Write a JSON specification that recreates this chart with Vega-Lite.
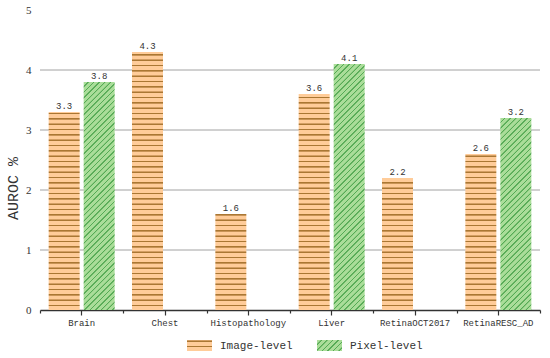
{
  "$schema": "https://vega.github.io/schema/vega-lite/v6.json",
  "width": 500,
  "height": 300,
  "autosize": "none",
  "padding": {"left": 40, "top": 10, "right": 10, "bottom": 48},
  "background": "white",
  "config": {
    "view": {"stroke": null},
    "axisY": {"domain": false, "ticks": false, "grid": false, "labelPadding": 9, "labelFont": "Liberation Serif", "labelFontSize": 11, "labelColor": "#333", "titleFont": "Liberation Mono", "titleFontSize": 15, "titleFontWeight": "normal", "titleColor": "#333", "titleX": -28, "titleY": 178, "titleAngle": 270, "titleAlign": "center", "titleBaseline": "middle"}
  },
  "data": {
    "values": [
      {"cat": "Brain", "level": "Image-level", "value": 3.3},
      {"cat": "Brain", "level": "Pixel-level", "value": 3.8},
      {"cat": "Chest", "level": "Image-level", "value": 4.3},
      {"cat": "Histopathology", "level": "Image-level", "value": 1.6},
      {"cat": "Liver", "level": "Image-level", "value": 3.6},
      {"cat": "Liver", "level": "Pixel-level", "value": 4.1},
      {"cat": "RetinaOCT2017", "level": "Image-level", "value": 2.2},
      {"cat": "RetinaRESC_AD", "level": "Image-level", "value": 2.6},
      {"cat": "RetinaRESC_AD", "level": "Pixel-level", "value": 3.2}
    ]
  },
  "resolve": {"axis": {"x": "independent", "y": "independent"}},
  "layer": [
    {
      "transform": [{"filter": "false"}],
      "mark": "point",
      "encoding": {
        "stroke": {
          "field": "value",
          "type": "quantitative",
          "legend": null,
          "scale": {
            "domain": [0,0.0136,0.0148,0.0188,0.02,0.0336,0.0348,0.0388,0.04,0.0536,0.0548,0.0588,0.06,0.0736,0.0748,0.0788,0.08,0.0936,0.0948,0.0988,
              0.1,0.1136,0.1148,0.1188,0.12,0.1336,0.1348,0.1388,0.14,0.1536,0.1548,0.1588,0.16,0.1736,0.1748,0.1788,0.18,0.1936,0.1948,0.1988,
              0.2,0.2136,0.2148,0.2188,0.22,0.2336,0.2348,0.2388,0.24,0.2536,0.2548,0.2588,0.26,0.2736,0.2748,0.2788,0.28,0.2936,0.2948,0.2988,
              0.3,0.3136,0.3148,0.3188,0.32,0.3336,0.3348,0.3388,0.34,0.3536,0.3548,0.3588,0.36,0.3736,0.3748,0.3788,0.38,0.3936,0.3948,0.3988,
              0.4,0.4136,0.4148,0.4188,0.42,0.4336,0.4348,0.4388,0.44,0.4536,0.4548,0.4588,0.46,0.4736,0.4748,0.4788,0.48,0.4936,0.4948,0.4988,
              0.5,0.5136,0.5148,0.5188,0.52,0.5336,0.5348,0.5388,0.54,0.5536,0.5548,0.5588,0.56,0.5736,0.5748,0.5788,0.58,0.5936,0.5948,0.5988,
              0.6,0.6136,0.6148,0.6188,0.62,0.6336,0.6348,0.6388,0.64,0.6536,0.6548,0.6588,0.66,0.6736,0.6748,0.6788,0.68,0.6936,0.6948,0.6988,
              0.7,0.7136,0.7148,0.7188,0.72,0.7336,0.7348,0.7388,0.74,0.7536,0.7548,0.7588,0.76,0.7736,0.7748,0.7788,0.78,0.7936,0.7948,0.7988,
              0.8,0.8136,0.8148,0.8188,0.82,0.8336,0.8348,0.8388,0.84,0.8536,0.8548,0.8588,0.86,0.8736,0.8748,0.8788,0.88,0.8936,0.8948,0.8988,
              0.9,0.9136,0.9148,0.9188,0.92,0.9336,0.9348,0.9388,0.94,0.9536,0.9548,0.9588,0.96,0.9736,0.9748,0.9788,0.98,0.9936,0.9948,0.9988,
              1],
            "range": ["#fc9","#fc9","#a73","#a73","#fc9","#fc9","#a73","#a73","#fc9","#fc9","#a73","#a73","#fc9","#fc9","#a73","#a73","#fc9","#fc9","#a73","#a73",
              "#fc9","#fc9","#a73","#a73","#fc9","#fc9","#a73","#a73","#fc9","#fc9","#a73","#a73","#fc9","#fc9","#a73","#a73","#fc9","#fc9","#a73","#a73",
              "#fc9","#fc9","#a73","#a73","#fc9","#fc9","#a73","#a73","#fc9","#fc9","#a73","#a73","#fc9","#fc9","#a73","#a73","#fc9","#fc9","#a73","#a73",
              "#fc9","#fc9","#a73","#a73","#fc9","#fc9","#a73","#a73","#fc9","#fc9","#a73","#a73","#fc9","#fc9","#a73","#a73","#fc9","#fc9","#a73","#a73",
              "#fc9","#fc9","#a73","#a73","#fc9","#fc9","#a73","#a73","#fc9","#fc9","#a73","#a73","#fc9","#fc9","#a73","#a73","#fc9","#fc9","#a73","#a73",
              "#fc9","#fc9","#a73","#a73","#fc9","#fc9","#a73","#a73","#fc9","#fc9","#a73","#a73","#fc9","#fc9","#a73","#a73","#fc9","#fc9","#a73","#a73",
              "#fc9","#fc9","#a73","#a73","#fc9","#fc9","#a73","#a73","#fc9","#fc9","#a73","#a73","#fc9","#fc9","#a73","#a73","#fc9","#fc9","#a73","#a73",
              "#fc9","#fc9","#a73","#a73","#fc9","#fc9","#a73","#a73","#fc9","#fc9","#a73","#a73","#fc9","#fc9","#a73","#a73","#fc9","#fc9","#a73","#a73",
              "#fc9","#fc9","#a73","#a73","#fc9","#fc9","#a73","#a73","#fc9","#fc9","#a73","#a73","#fc9","#fc9","#a73","#a73","#fc9","#fc9","#a73","#a73",
              "#fc9","#fc9","#a73","#a73","#fc9","#fc9","#a73","#a73","#fc9","#fc9","#a73","#a73","#fc9","#fc9","#a73","#a73","#fc9","#fc9","#a73","#a73",
              "#fc9"]
          }
        }
      }
    },
    {
      "transform": [{"filter": "false"}],
      "mark": "point",
      "encoding": {
        "color": {
          "field": "value",
          "type": "quantitative",
          "legend": null,
          "scale": {
            "domain": [0,0.0136,0.0148,0.0188,0.02,0.0336,0.0348,0.0388,0.04,0.0536,0.0548,0.0588,0.06,0.0736,0.0748,0.0788,0.08,0.0936,0.0948,0.0988,
              0.1,0.1136,0.1148,0.1188,0.12,0.1336,0.1348,0.1388,0.14,0.1536,0.1548,0.1588,0.16,0.1736,0.1748,0.1788,0.18,0.1936,0.1948,0.1988,
              0.2,0.2136,0.2148,0.2188,0.22,0.2336,0.2348,0.2388,0.24,0.2536,0.2548,0.2588,0.26,0.2736,0.2748,0.2788,0.28,0.2936,0.2948,0.2988,
              0.3,0.3136,0.3148,0.3188,0.32,0.3336,0.3348,0.3388,0.34,0.3536,0.3548,0.3588,0.36,0.3736,0.3748,0.3788,0.38,0.3936,0.3948,0.3988,
              0.4,0.4136,0.4148,0.4188,0.42,0.4336,0.4348,0.4388,0.44,0.4536,0.4548,0.4588,0.46,0.4736,0.4748,0.4788,0.48,0.4936,0.4948,0.4988,
              0.5,0.5136,0.5148,0.5188,0.52,0.5336,0.5348,0.5388,0.54,0.5536,0.5548,0.5588,0.56,0.5736,0.5748,0.5788,0.58,0.5936,0.5948,0.5988,
              0.6,0.6136,0.6148,0.6188,0.62,0.6336,0.6348,0.6388,0.64,0.6536,0.6548,0.6588,0.66,0.6736,0.6748,0.6788,0.68,0.6936,0.6948,0.6988,
              0.7,0.7136,0.7148,0.7188,0.72,0.7336,0.7348,0.7388,0.74,0.7536,0.7548,0.7588,0.76,0.7736,0.7748,0.7788,0.78,0.7936,0.7948,0.7988,
              0.8,0.8136,0.8148,0.8188,0.82,0.8336,0.8348,0.8388,0.84,0.8536,0.8548,0.8588,0.86,0.8736,0.8748,0.8788,0.88,0.8936,0.8948,0.8988,
              0.9,0.9136,0.9148,0.9188,0.92,0.9336,0.9348,0.9388,0.94,0.9536,0.9548,0.9588,0.96,0.9736,0.9748,0.9788,0.98,0.9936,0.9948,0.9988,
              1],
            "range": ["#ad9","#ad9","#5a5","#5a5","#ad9","#ad9","#5a5","#5a5","#ad9","#ad9","#5a5","#5a5","#ad9","#ad9","#5a5","#5a5","#ad9","#ad9","#5a5","#5a5",
              "#ad9","#ad9","#5a5","#5a5","#ad9","#ad9","#5a5","#5a5","#ad9","#ad9","#5a5","#5a5","#ad9","#ad9","#5a5","#5a5","#ad9","#ad9","#5a5","#5a5",
              "#ad9","#ad9","#5a5","#5a5","#ad9","#ad9","#5a5","#5a5","#ad9","#ad9","#5a5","#5a5","#ad9","#ad9","#5a5","#5a5","#ad9","#ad9","#5a5","#5a5",
              "#ad9","#ad9","#5a5","#5a5","#ad9","#ad9","#5a5","#5a5","#ad9","#ad9","#5a5","#5a5","#ad9","#ad9","#5a5","#5a5","#ad9","#ad9","#5a5","#5a5",
              "#ad9","#ad9","#5a5","#5a5","#ad9","#ad9","#5a5","#5a5","#ad9","#ad9","#5a5","#5a5","#ad9","#ad9","#5a5","#5a5","#ad9","#ad9","#5a5","#5a5",
              "#ad9","#ad9","#5a5","#5a5","#ad9","#ad9","#5a5","#5a5","#ad9","#ad9","#5a5","#5a5","#ad9","#ad9","#5a5","#5a5","#ad9","#ad9","#5a5","#5a5",
              "#ad9","#ad9","#5a5","#5a5","#ad9","#ad9","#5a5","#5a5","#ad9","#ad9","#5a5","#5a5","#ad9","#ad9","#5a5","#5a5","#ad9","#ad9","#5a5","#5a5",
              "#ad9","#ad9","#5a5","#5a5","#ad9","#ad9","#5a5","#5a5","#ad9","#ad9","#5a5","#5a5","#ad9","#ad9","#5a5","#5a5","#ad9","#ad9","#5a5","#5a5",
              "#ad9","#ad9","#5a5","#5a5","#ad9","#ad9","#5a5","#5a5","#ad9","#ad9","#5a5","#5a5","#ad9","#ad9","#5a5","#5a5","#ad9","#ad9","#5a5","#5a5",
              "#ad9","#ad9","#5a5","#5a5","#ad9","#ad9","#5a5","#5a5","#ad9","#ad9","#5a5","#5a5","#ad9","#ad9","#5a5","#5a5","#ad9","#ad9","#5a5","#5a5",
              "#ad9"]
          }
        }
      }
    },
    {"mark": {"type": "rule", "color": "#d0d0d0", "strokeWidth": 1}, "encoding": {"y": {"datum": 1, "type": "quantitative", "axis": null}}},
    {"mark": {"type": "rule", "color": "#d0d0d0", "strokeWidth": 1}, "encoding": {"y": {"datum": 2, "type": "quantitative", "axis": null}}},
    {"mark": {"type": "rule", "color": "#d0d0d0", "strokeWidth": 1}, "encoding": {"y": {"datum": 3, "type": "quantitative", "axis": null}}},
    {"mark": {"type": "rule", "color": "#d0d0d0", "strokeWidth": 1}, "encoding": {"y": {"datum": 4, "type": "quantitative", "axis": null}}},
    {
      "mark": {"type": "bar"},
      "encoding": {
        "x": {
          "field": "cat", "type": "nominal", "sort": null,
          "scale": {"paddingInner": 0, "paddingOuter": 0},
          "axis": {"title": null, "orient": "bottom", "labelAngle": 0, "labelFont": "Liberation Mono", "labelFontSize": 9, "labelColor": "#333", "labelPadding": 3, "domainColor": "#333", "domainWidth": 1.5, "tickColor": "#333", "tickSize": 5, "tickWidth": 1.2, "grid": false}
        },
        "xOffset": {"field": "level", "type": "nominal", "scale": {"paddingInner": 0.1143, "paddingOuter": 0.2476}},
        "y": {
          "field": "value", "type": "quantitative",
          "scale": {"domain": [0, 5], "nice": false},
          "axis": {"orient": "left", "title": "AUROC %", "values": [0, 1, 2, 3, 4, 5], "format": "d", "grid": false}
        },
        "fill": {
          "field": "level", "type": "nominal",
          "scale": {
            "domain": ["Image-level", "Pixel-level"],
            "range": [
              {"expr": "gradient('stroke', [0, 1], [0, -23.24], 2500)"},
              {"expr": "gradient('color', [0, 0], [9.383, 4.129], 2500)"}
            ]
          },
          "condition": {"test": "true", "value": {"expr": "datum.level === 'Image-level' ? gradient('stroke', [0, 1], [0, 1 - 40 / (9 * datum.value)], 2500) : gradient('color', [0, 0], [8680 / (961 + 3600 * datum.value * datum.value), 16800 * datum.value / (961 + 3600 * datum.value * datum.value)], 2500)"}},
          "legend": {
            "title": null, "orient": "none", "legendX": 147, "legendY": 323, "direction": "horizontal",
            "symbolType": "M-1,-0.44H1V0.44H-1Z", "symbolSize": 625, "symbolStrokeWidth": 0,
            "labelFont": "Liberation Mono", "labelFontSize": 11, "labelColor": "#333", "labelOffset": 8, "columnPadding": 24, "padding": 0,
            "symbolOpacity": 1
          }
        }
      }
    },
    {
      "mark": {"type": "text", "baseline": "bottom", "dy": -1, "font": "Liberation Mono", "fontSize": 9, "color": "#333"},
      "encoding": {
        "x": {"field": "cat", "type": "nominal", "sort": null, "axis": {"orient": "bottom", "tickBand": "extent", "labels": false, "domain": false, "grid": false, "ticks": true, "tickSize": 3, "tickColor": "#333", "tickWidth": 1.2, "title": null}},
        "xOffset": {"field": "level", "type": "nominal"},
        "y": {"field": "value", "type": "quantitative", "axis": null},
        "text": {"field": "value", "type": "quantitative", "format": ".1f"}
      }
    }
  ]
}
